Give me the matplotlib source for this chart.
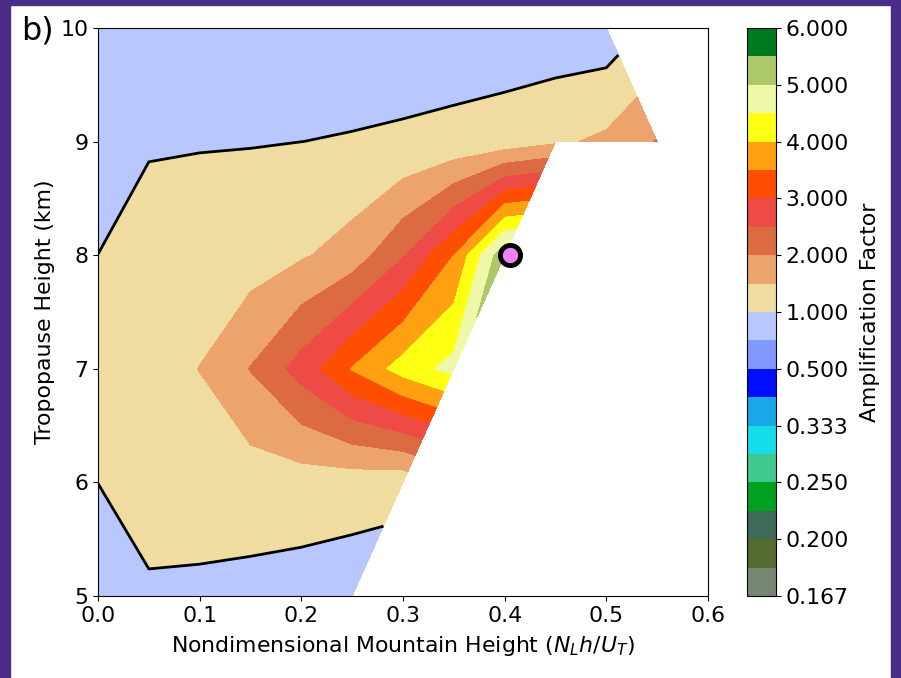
# -*- coding: utf-8 -*-
"""
Amplification factor vs. nondimensional mountain height and tropopause height
(panel b)
"""
# ------------------------------------------------------------------------------
# I M P O R T
import numpy as np
import matplotlib.pyplot as plt
from matplotlib.patches import Rectangle

nan = np.nan

# ------------------------------------------------------------------------------
# D A T A

# Nondimensional mountain height N_L h / U_T
x_vals = [0.0, 0.05, 0.1, 0.15, 0.2, 0.25, 0.3, 0.35, 0.4, 0.45, 0.5, 0.55, 0.6]
# Tropopause height [km]
y_vals = [5, 6, 7, 8, 9, 10]

# amplification factor, one row per tropopause height (nan = no steady solution)
amp_5km = [0.999, 0.953, 0.922, 0.869, 0.81, 0.738, nan, nan, nan, nan, nan, nan, nan]
amp_6km = [1.00001, 1.15, 1.2, 1.244, 1.252, 1.223, 1.164, nan, nan, nan, nan, nan, nan]
amp_7km = [1.001, 1.25, 1.51, 2.02, 2.71, 3.53, 4.22, 4.67, nan, nan, nan, nan, nan]
amp_8km = [1.00001, 1.12, 1.2, 1.254, 1.445, 1.719, 2.46, 3.5, 5.4, nan, nan, nan, nan]
amp_9km = [0.999, 0.974, 0.978, 0.984, 0.9995, 1.012, 1.0375, 1.12, 1.2, 1.42, 1.594, 2.03, nan]
amp_10km = [0.999, 0.95, 0.93, 0.91, 0.9, 0.88, 0.85, 0.745, 0.74, 0.67, 0.68, nan, nan]

# marked case
dot_x = [0.405]
dot_y = [8.0]

# contour levels (symmetric in 1/A) and colorbar ticks
levels = [1/6, 1/5.5, 1/5, 1/4.5, 1/4, 1/3.5, 1/3, 1/2.5, 1/2, 1/1.5,
          1, 1.5, 2, 2.5, 3, 3.5, 4, 4.5, 5, 5.5, 6]
cb_ticks = [1/6, 1/5, 1/4, 1/3, 1/2, 1, 2, 3, 4, 5, 6]

colors = ['#778672', '#556b2f', '#3d6b58', '#00a020', '#40c890',
          '#14dce8', '#18a8e8', '#0010ff', '#8098ff', '#b8c8ff',
          '#f0dca0', '#eda46c', '#dd6b42', '#ee4a46', '#ff4e00',
          '#ffa010', '#ffff14', '#eef8a8', '#acc868', '#007a20']

# ------------------------------------------------------------------------------
# P L O T

plt.rcParams['font.size'] = 15.8

X, Y = np.meshgrid(x_vals, y_vals)
Z = np.ma.masked_invalid(np.array([amp_5km, amp_6km, amp_7km,
                                   amp_8km, amp_9km, amp_10km]))

fig = plt.figure(figsize=(9.01, 6.78), dpi=100)
ax = fig.add_axes([0.1088, 0.1209, 0.677, 0.8378])
cax = fig.add_axes([0.829, 0.1209, 0.032, 0.8378])

cf = ax.contourf(X, Y, Z, levels=levels, colors=colors)
ax.contour(X, Y, Z, levels=[1.0], colors='k', linewidths=2)
ax.plot(dot_x, dot_y, 'o', color='#f77ff7', markeredgecolor='k',
        markersize=14.5, markeredgewidth=3.5)

ax.set_xlim(0, 0.6)
ax.set_ylim(5, 10)
ax.set_xticks([0.0, 0.1, 0.2, 0.3, 0.4, 0.5, 0.6])
ax.set_xlabel('Nondimensional Mountain Height ($N_L h/U_T$)', labelpad=6)
ax.set_ylabel('Tropopause Height (km)')

cb = fig.colorbar(cf, cax=cax, ticks=cb_ticks, format='%.3f')
cb.set_label('Amplification Factor', labelpad=8)

fig.text(0.024, 0.955, 'b)', fontsize=23, va='center', ha='left')

# purple frame
purple = '#4b2d87'
fig.patches.append(Rectangle((0, 0), 10/901, 1, transform=fig.transFigure,
                             color=purple, zorder=10))
fig.patches.append(Rectangle((0, 1 - 5/678), 1, 5/678, transform=fig.transFigure,
                             color=purple, zorder=10))
fig.patches.append(Rectangle((891/901, 0), 10/901, 1, transform=fig.transFigure,
                             color=purple, zorder=10))

fig.savefig('out.png', dpi=100)
